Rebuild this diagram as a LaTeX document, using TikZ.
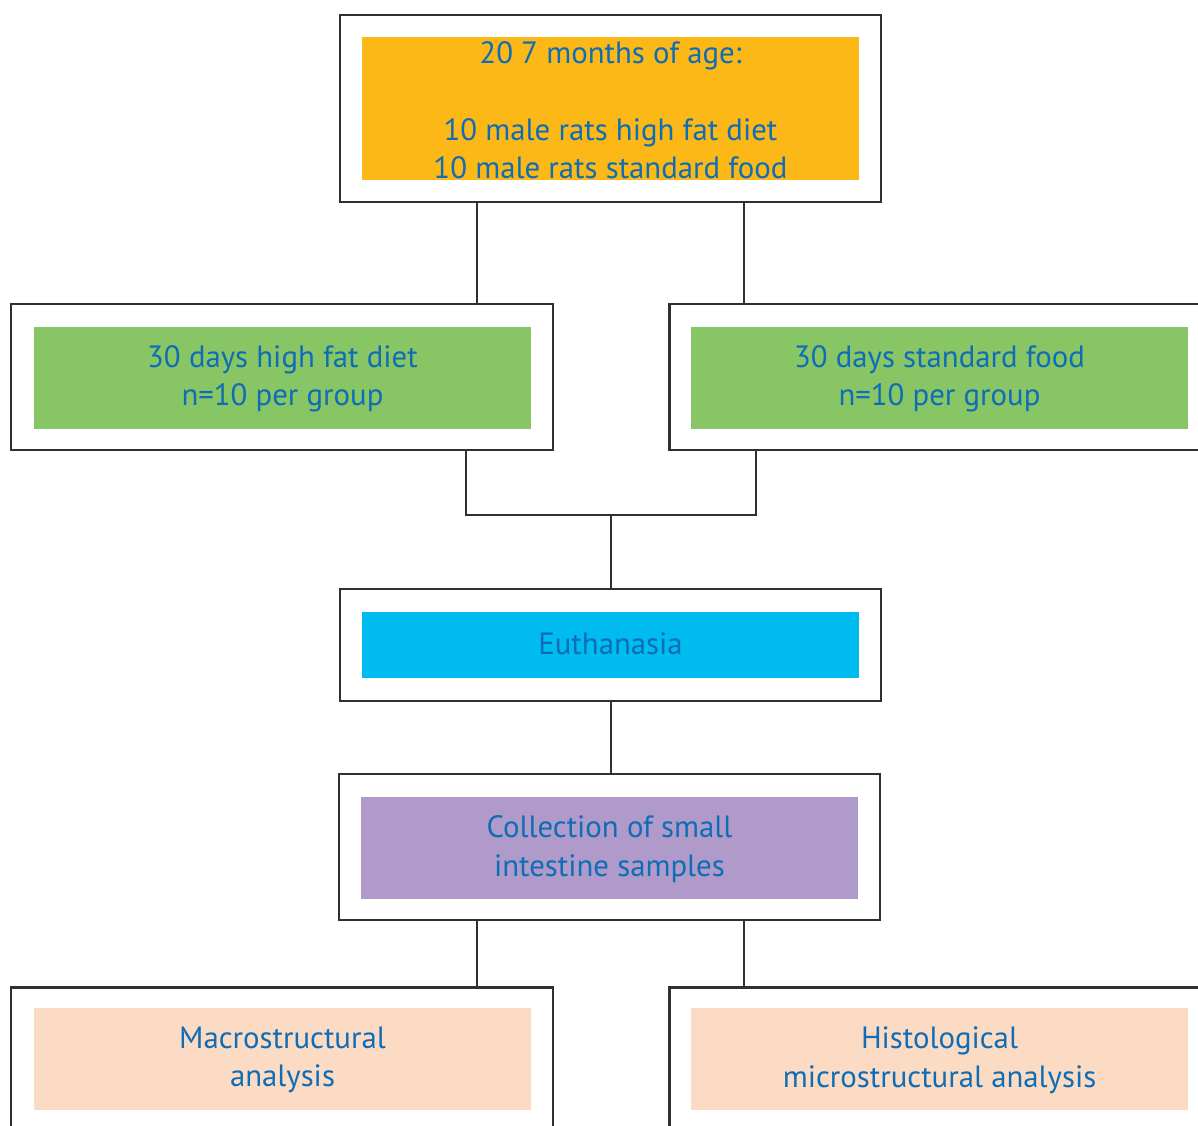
\documentclass[tikz,border=0pt]{standalone}
\usepackage{fontspec}
\setmainfont{PT Sans}
\definecolor{txtblue}{HTML}{0F6CB6}
\definecolor{orng}{HTML}{FBB817}
\definecolor{grn}{HTML}{88C665}
\definecolor{cyn}{HTML}{00BBF0}
\definecolor{prpl}{HTML}{AF9ACA}
\definecolor{pch}{HTML}{FBDBC4}
\definecolor{edge}{HTML}{303030}
\begin{document}
\begin{tikzpicture}[x=1pt,y=-1pt,
  outerbox/.style={draw=edge,line width=2.5pt,fill=white,inner sep=0pt,minimum width=#1},
  fillbox/.style={fill=#1,draw=none,inner sep=0pt,minimum width=497pt,minimum height=102pt},
  lbl/.style={text=txtblue,align=center,inner sep=0pt,font=\fontsize{30.8}{38.5}\selectfont},
  conn/.style={draw=edge,line width=2pt}]
\useasboundingbox (0,0) rectangle (1198,1125);
% top
\node[outerbox=541pt,minimum height=187pt] (topO) at (610.5,108.5) {};
\node[fillbox=orng,minimum height=143pt] (topI) at (610.5,108.5) {};
\node[lbl] (topT) at (610.5,110) {20 7 months of age:\\[0pt] \\10 male rats high fat diet\\10 male rats standard food};
% row 2
\node[outerbox=542pt,minimum height=146pt] (hfdO) at (282,377) {};
\node[fillbox=grn] (hfdI) at (282.5,378) {};
\node[lbl] (hfdT) at (282.5,379) {30 days high fat diet\\n=10 per group};
\node[outerbox=560pt,minimum height=146pt,anchor=west] (sfO) at (668,377) {};
\node[fillbox=grn] (sfI) at (939.5,378) {};
\node[lbl] (sfT) at (939.5,379) {30 days standard food\\n=10 per group};
% euthanasia
\node[outerbox=541pt,minimum height=112pt] (euO) at (610.5,645) {};
\node[fillbox=cyn,minimum height=66pt] (euI) at (610.5,645) {};
\node[lbl] (euT) at (610.5,644) {Euthanasia};
% collection
\node[outerbox=541pt,minimum height=146pt] (coO) at (609.5,847) {};
\node[fillbox=prpl] (coI) at (609.5,848) {};
\node[lbl] (coT) at (609.5,849) {Collection of small\\intestine samples};
% bottom
\node[outerbox=542pt,minimum height=160pt,anchor=north] (maO) at (282,986) {};
\node[fillbox=pch] (maI) at (282.5,1059) {};
\node[lbl] (maT) at (282.5,1060) {Macrostructural\\analysis};
\node[outerbox=560pt,minimum height=160pt,anchor=north west] (hiO) at (668,986) {};
\node[fillbox=pch] (hiI) at (939.5,1059) {};
\node[lbl] (hiT) at (939.5,1060) {Histological\\microstructural analysis};
% connectors
\coordinate (a1) at (477,0); \coordinate (a2) at (744,0);
\draw[conn] (topO.south -| a1) -- (hfdO.north -| a1);
\draw[conn] (topO.south -| a2) -- (sfO.north -| a2);
\coordinate (b1) at (466,515); \coordinate (b2) at (756,515);
\draw[conn] (hfdO.south -| b1) -- (b1) -- (b2) -- (sfO.south -| b2);
\draw[conn] (euO.north) -- (euO.north |- b1);
\draw[conn] (euO.south) -- (coO.north -| euO.south);
\draw[conn] (coO.south -| a1) -- (maO.north -| a1);
\draw[conn] (coO.south -| a2) -- (hiO.north -| a2);
\end{tikzpicture}
\end{document}
